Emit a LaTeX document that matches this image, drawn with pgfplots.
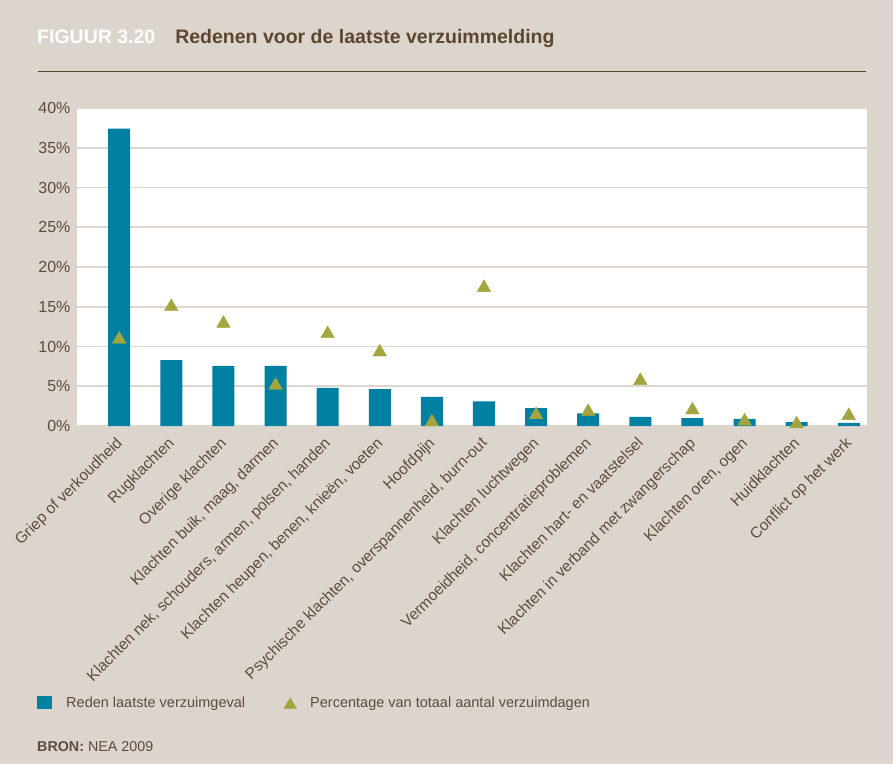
\documentclass[border=0pt]{standalone}
\usepackage{fontspec}
\setmainfont{Liberation Sans}
\usepackage{pgfplots}
\pgfplotsset{compat=1.18}
\usepackage{pgfplotstable}

\definecolor{bgbeige}{RGB}{219,213,205}
\definecolor{barblue}{RGB}{0,129,161}
\definecolor{olive}{RGB}{163,165,62}
\definecolor{gridc}{RGB}{222,215,208}
\definecolor{txt}{RGB}{94,76,60}
\definecolor{titlebrown}{RGB}{92,70,46}

% reason for last absence (bars) and share of total absence days (triangles), in %
\pgfplotstableread{
x  bar   tri
0  37.4  10.9
1  8.3   15.0
2  7.55  12.9
3  7.55  5.1
4  4.8   11.6
5  4.65  9.3
6  3.65  0.5
7  3.1   17.4
8  2.26  1.4
9  1.6   1.8
10 1.15  5.7
11 1.0   2.0
12 0.9   0.6
13 0.5   0.25
14 0.4   1.3
}\verzuim

\begin{document}
\begin{tikzpicture}
\path[use as bounding box, fill=bgbeige] (0,0) rectangle (893pt,764pt);

\node[anchor=base west, inner sep=0pt, font=\fontsize{19.5}{23}\selectfont\bfseries]
  at (37pt,720pt) {\textcolor{white}{FIGUUR 3.20}\hspace{20pt}\textcolor{titlebrown}{Redenen voor de laatste verzuimmelding}};
\draw[titlebrown, line width=1pt] (38pt,692pt) -- (866pt,692pt);

\begin{axis}[
    scale only axis,
    width=790pt, height=318pt,
    at={(77pt,338pt)}, anchor=south west,
    xmin=-0.81, xmax=14.35, ymin=0, ymax=40,
    axis background/.style={fill=white},
    axis line style={draw=none},
    major tick length=0pt,
    ytick={0,5,...,40},
    ymajorgrids,
    grid style={gridc, line width=1.6pt},
    yticklabel={\pgfmathprintnumber{\tick}\%},
    /pgf/number format/assume math mode=true,
    tick label style={text=txt},
    yticklabel style={font=\fontsize{16}{19}\selectfont, xshift=-3pt},
    xtick={0,...,14},
    xticklabels={
      Griep of verkoudheid,
      Rugklachten,
      Overige klachten,
      {Klachten buik, maag, darmen},
      {Klachten nek, schouders, armen, polsen, handen},
      {Klachten heupen, benen, knieën, voeten},
      Hoofdpijn,
      {Psychische klachten, overspannenheid, burn-out},
      Klachten luchtwegen,
      {Vermoeidheid, concentratieproblemen},
      Klachten hart- en vaatstelsel,
      Klachten in verband met zwangerschap,
      {Klachten oren, ogen},
      Huidklachten,
      Conflict op het werk},
    xticklabel style={rotate=45, anchor=north east, font=\fontsize{15.5}{18}\selectfont,
      xshift=-6.5pt, yshift=-0.5pt},
    clip=false,
    legend columns=2,
    legend cell align=left,
    legend style={at={(axis description cs:-0.0506,-0.871)}, anchor=west,
      draw=none, fill=none, inner sep=0pt, column sep=0pt,
      nodes={inner sep=0pt}, text=txt, font=\fontsize{14.5}{17}\selectfont},
  ]
  \addplot[ybar, bar width=22pt, fill=barblue, draw=none,
    legend image code/.code={
      \fill[barblue] (0pt,-6.5pt) rectangle (15pt,6.5pt);
      \path[draw=none, fill=none] (0pt,0pt) -- (29pt,0pt);}]
    table[x=x, y=bar] {\verzuim};
  \addlegendentry{\makebox[217pt][l]{Reden laatste verzuimgeval}}
  \addplot[only marks, mark=triangle*, color=olive, mark size=7.9pt,
    mark options={fill=olive, line width=0.3pt},
    legend image code/.code={
      \path[draw=none, fill=none] (0pt,-7pt) -- (27pt,7pt);
      \draw[only marks, mark=triangle*, mark size=7.4pt, color=olive,
        mark options={fill=olive, line width=0.3pt}]
        plot coordinates {(7pt,-2pt)};}]
    table[x=x, y=tri] {\verzuim};
  \addlegendentry{Percentage van totaal aantal verzuimdagen}
\end{axis}

\node[anchor=base west, inner sep=0pt, text=txt, font=\fontsize{14.3}{17}\selectfont]
  at (37pt,13pt) {\textbf{BRON:} NEA 2009};
\end{tikzpicture}
\end{document}
